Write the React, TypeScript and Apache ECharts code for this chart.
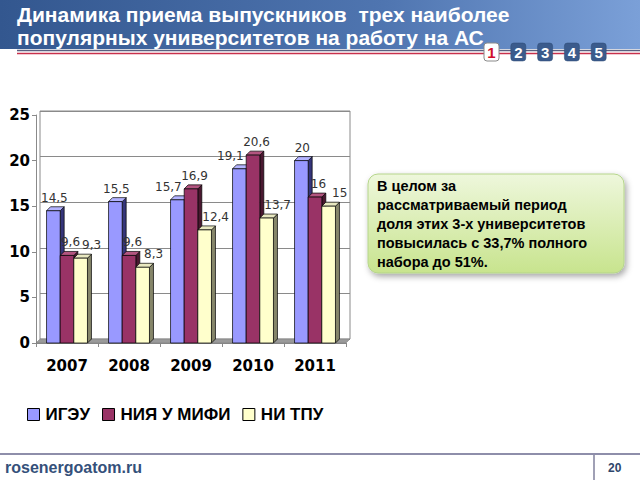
import React, { useEffect, useRef } from "react";
import * as echarts from "echarts";

const categories = ["2007", "2008", "2009", "2010", "2011"];
const seriesNames = ["ИГЭУ", "НИЯ У МИФИ", "НИ ТПУ"];
const igeu = [14.5, 15.5, 15.7, 19.1, 20];
const mifi = [9.6, 9.6, 16.9, 20.6, 16];
const tpu = [9.3, 8.3, 12.4, 13.7, 15];
const yMax = 25;
const yStep = 5;
const titleLines = [
  "Динамика приема выпускников  трех наиболее",
  "популярных университетов на работу на АС",
];
const noteLines = [
  "В целом за",
  "рассматриваемый период",
  "доля этих 3-х университетов",
  "повысилась с 33,7% полного",
  "набора до 51%.",
];
const pages = ["1", "2", "3", "4", "5"];
const siteText = "rosenergoatom.ru";
const slideNo = "20";

const FONT = "'Liberation Sans', Arial, sans-serif";
const VFONT = "'DejaVu Sans', Verdana, sans-serif";

const palette = [
  { front: "#9999ff", side: "#35357a", top: "#b3b3ff", dx: -1 },
  { front: "#993366", side: "#4a1830", top: "#b35580", dx: 1.5 },
  { front: "#ffffcc", side: "#86866a", top: "#e8e8c0", dx: 9 },
];

const fmt = (v: number) => String(v).replace(".", ",");

function makeRender(k: number, allData: number[][]) {
  const c = palette[k];
  return (params: any, api: any) => {
    const ci = api.value(0);
    const v = api.value(1);
    const pTop = api.coord([ci, v]);
    const pBase = api.coord([ci, 0]);
    const band = api.size([1, 0])[0];
    const w = band * 0.22;
    const d = 4;
    const cx = pTop[0];
    const yTop = pTop[1];
    const yBase = pBase[1];
    const x0 = cx - 1.5 * w + k * w;
    const x1 = x0 + w;
    const lw = 0.7;
    // shift label left when the next bar in the group is taller (avoid it covering the label)
    const next = allData[k + 1];
    const dx = next && next[ci] > v ? -11 : c.dx;
    return {
      type: "group",
      children: [
        {
          type: "polygon",
          shape: { points: [[x1, yTop], [x1 + d, yTop - d], [x1 + d, yBase - d], [x1, yBase]] },
          style: { fill: c.side, stroke: "#000", lineWidth: lw },
        },
        {
          type: "polygon",
          shape: { points: [[x0, yTop], [x0 + d, yTop - d], [x1 + d, yTop - d], [x1, yTop]] },
          style: { fill: c.top, stroke: "#000", lineWidth: lw },
        },
        {
          type: "rect",
          shape: { x: x0, y: yTop, width: w, height: yBase - yTop },
          style: { fill: c.front, stroke: "#000", lineWidth: lw },
        },
        {
          type: "text",
          z2: 100,
          x: x0 + w / 2 + d / 2 + dx,
          y: yTop - d - 3,
          style: {
            text: fmt(v),
            fill: "#333",
            fontSize: 12,
            fontFamily: VFONT,
            align: "center",
            verticalAlign: "bottom",
          },
        },
      ],
    };
  };
}

export default function App() {
  const ref = useRef<HTMLDivElement>(null);
  useEffect(() => {
    if (!ref.current) return;
    const chart = echarts.init(ref.current, null, { renderer: "svg" });
    const seriesData = [igeu, mifi, tpu];
    const option: any = {
      animation: false,
      backgroundColor: "#ffffff",
      grid: [
        {
          left: 40, right: 290, top: 111, bottom: 141,
          show: true, borderColor: "#8a8a8a", borderWidth: 1, backgroundColor: "#ffffff",
        },
        { left: 36, right: 294, top: 115, bottom: 137 },
      ],
      xAxis: [
        { type: "category", data: categories, gridIndex: 0, show: false },
        {
          type: "category", data: categories, gridIndex: 1,
          axisLine: { lineStyle: { color: "#8a8a8a" } },
          axisTick: { show: true, length: 4, lineStyle: { color: "#8a8a8a" } },
          axisLabel: { color: "#000", fontSize: 15, fontWeight: "bold", fontFamily: VFONT, margin: 15 },
        },
      ],
      yAxis: [
        {
          type: "value", gridIndex: 0, min: 0, max: yMax, interval: yStep,
          axisLabel: { show: false }, axisLine: { show: false }, axisTick: { show: false },
          splitLine: { show: true, lineStyle: { color: "#8a8a8a", width: 1 } },
        },
        {
          type: "value", gridIndex: 1, min: 0, max: yMax, interval: yStep,
          axisLine: { show: true, lineStyle: { color: "#8a8a8a" } },
          axisTick: { show: true, length: 4, lineStyle: { color: "#8a8a8a" } },
          splitLine: { show: false },
          axisLabel: { color: "#000", fontSize: 15, fontWeight: "bold", fontFamily: VFONT, margin: 6 },
        },
      ],
      legend: {
        data: seriesNames,
        left: 22, top: 401,
        icon: "rect", itemWidth: 12, itemHeight: 12, itemGap: 12,
        itemStyle: { borderColor: "#000", borderWidth: 1 },
        textStyle: { color: "#000", fontSize: 17, fontWeight: "bold", fontFamily: FONT, padding: [0, 0, 0, 1] },
      },
      series: seriesNames.map((name, k) => ({
        name,
        type: "custom",
        xAxisIndex: 1,
        yAxisIndex: 1,
        itemStyle: { color: palette[k].front },
        encode: { x: 0, y: 1 },
        data: seriesData[k].map((v, i) => [i, v]),
        renderItem: makeRender(k, seriesData),
      })),
      graphic: [
        // floor
        {
          type: "polygon", z: 1, silent: true,
          shape: { points: [[36, 343], [40, 339], [350, 339], [346, 343]] },
          style: { fill: "#9a9a9a", stroke: "#777", lineWidth: 0.5 },
        },
        // header band
        {
          type: "rect", z: 10, silent: true,
          shape: { x: 0, y: 0, width: 640, height: 49 },
          style: {
            fill: new echarts.graphic.LinearGradient(0, 0, 1, 0, [
              { offset: 0, color: "#33578f" },
              { offset: 0.6, color: "#4f75b0" },
              { offset: 1, color: "#7ba0d8" },
            ]),
          },
        },
        {
          type: "line", z: 10, silent: true,
          shape: { x1: 17, y1: 50.5, x2: 640, y2: 50.5 },
          style: { stroke: "#5a5f80", lineWidth: 1.5 },
        },
        {
          type: "line", z: 10, silent: true,
          shape: { x1: 17, y1: 53.5, x2: 640, y2: 53.5 },
          style: { stroke: "#c8304c", lineWidth: 1.5 },
        },
        {
          type: "text", z: 11, silent: true, x: 17, y: 3,
          style: {
            text: titleLines.join("\n"), fill: "#ffffff", fontSize: 21, fontWeight: "bold",
            fontFamily: FONT, lineHeight: 23, align: "left", verticalAlign: "top",
          },
        },
        ...pages.map((p, i) => ({
          type: "group", silent: true, x: 484 + i * 26.8, y: 43,
          children: [
            {
              type: "rect", z: 12,
              shape: { x: 0, y: 0, width: 15, height: 18, r: 3 },
              style: i === 0
                ? { fill: "#ffffff", stroke: "#8a8a8a", lineWidth: 1 }
                : { fill: "#3b5b8c", stroke: "#2d4a75", lineWidth: 0.5 },
            },
            {
              type: "text", z: 13, x: 7.5, y: 9.5,
              style: {
                text: p, fill: i === 0 ? "#d0102c" : "#ffffff", fontSize: 15, fontWeight: "bold",
                fontFamily: FONT, align: "center", verticalAlign: "middle",
              },
            },
          ],
        })),
        // note box
        {
          type: "rect", z: 5, silent: true,
          shape: { x: 368, y: 174, width: 256, height: 99, r: 10 },
          style: {
            fill: new echarts.graphic.LinearGradient(0, 0, 0, 1, [
              { offset: 0, color: "#eef7dc" },
              { offset: 1, color: "#c8e48e" },
            ]),
            stroke: "#b5d58a", lineWidth: 1,
            shadowBlur: 6, shadowColor: "rgba(0,0,0,0.35)", shadowOffsetX: 2, shadowOffsetY: 3,
          },
        },
        {
          type: "text", z: 6, silent: true, x: 377, y: 176,
          style: {
            text: noteLines.join("\n"), fill: "#000", fontSize: 14.5, fontWeight: "bold",
            fontFamily: FONT, lineHeight: 19, align: "left", verticalAlign: "top",
          },
        },
        // footer
        {
          type: "line", z: 5, silent: true,
          shape: { x1: 0, y1: 454, x2: 640, y2: 454 },
          style: { stroke: "#8e8eaa", lineWidth: 2 },
        },
        {
          type: "line", z: 5, silent: true,
          shape: { x1: 594, y1: 455, x2: 594, y2: 480 },
          style: { stroke: "#a0a0b5", lineWidth: 2 },
        },
        {
          type: "text", z: 6, silent: true, x: 5, y: 467,
          style: {
            text: siteText, fill: "#34507a", fontSize: 16, fontWeight: "bold",
            fontFamily: FONT, align: "left", verticalAlign: "middle",
          },
        },
        {
          type: "text", z: 6, silent: true, x: 608, y: 468,
          style: {
            text: slideNo, fill: "#2e466b", fontSize: 12, fontWeight: "bold",
            fontFamily: FONT, align: "left", verticalAlign: "middle",
          },
        },
      ],
    };
    chart.setOption(option);
    return () => chart.dispose();
  }, []);
  return (
    <div
      ref={ref}
      style={{ position: "fixed", left: 0, top: 0, width: 640, height: 480, background: "#fff" }}
    />
  );
}
